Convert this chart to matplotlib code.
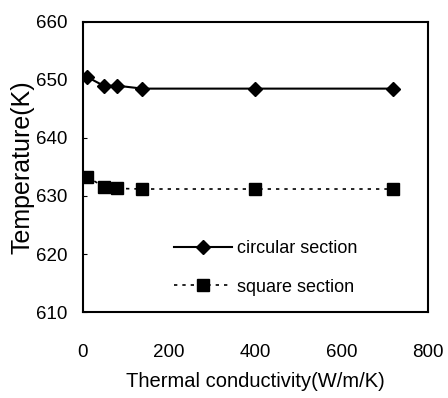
import matplotlib
matplotlib.use("Agg")
import matplotlib.pyplot as plt

plt.rcParams['font.family'] = ['Liberation Sans', 'DejaVu Sans']

# thermal conductivity (W/m/K)
k_vals = [10, 48, 80, 138, 400, 720]
# temperatures (K)
circular = [650.5, 649.0, 649.0, 648.5, 648.5, 648.5]
square = [633.3, 631.6, 631.3, 631.2, 631.2, 631.2]

fig = plt.figure(figsize=(4.48, 3.98), dpi=100)
ax = fig.add_axes([0.185, 0.216, 0.77, 0.729])

ax.plot(k_vals, circular, color='black', lw=1.5, marker='D', ms=7,
        label='circular section')
ax.plot(k_vals, square, color='black', lw=1.2, ls=(0, (2, 3)), marker='s', ms=8,
        label='square section')

ax.set_xlim(0, 800)
ax.set_ylim(610, 660)
ax.set_xticks([0, 200, 400, 600, 800])
ax.set_yticks([610, 620, 630, 640, 650, 660])
ax.tick_params(direction='in', length=3, labelsize=13.5)
ax.tick_params(axis='x', pad=23, length=0)
ax.tick_params(axis='y', pad=11)
for s in ax.spines.values():
    s.set_linewidth(1.5)

ax.set_xlabel('Thermal conductivity(W/m/K)', fontsize=14.5, labelpad=8)
ax.set_ylabel('Temperature(K)', fontsize=18, labelpad=1)

ax.legend(loc='lower center', bbox_to_anchor=(0.53, 0.0), frameon=False,
          fontsize=13, handlelength=3.2, handletextpad=0.3, labelspacing=1.2)

fig.savefig('out.png', dpi=100)
